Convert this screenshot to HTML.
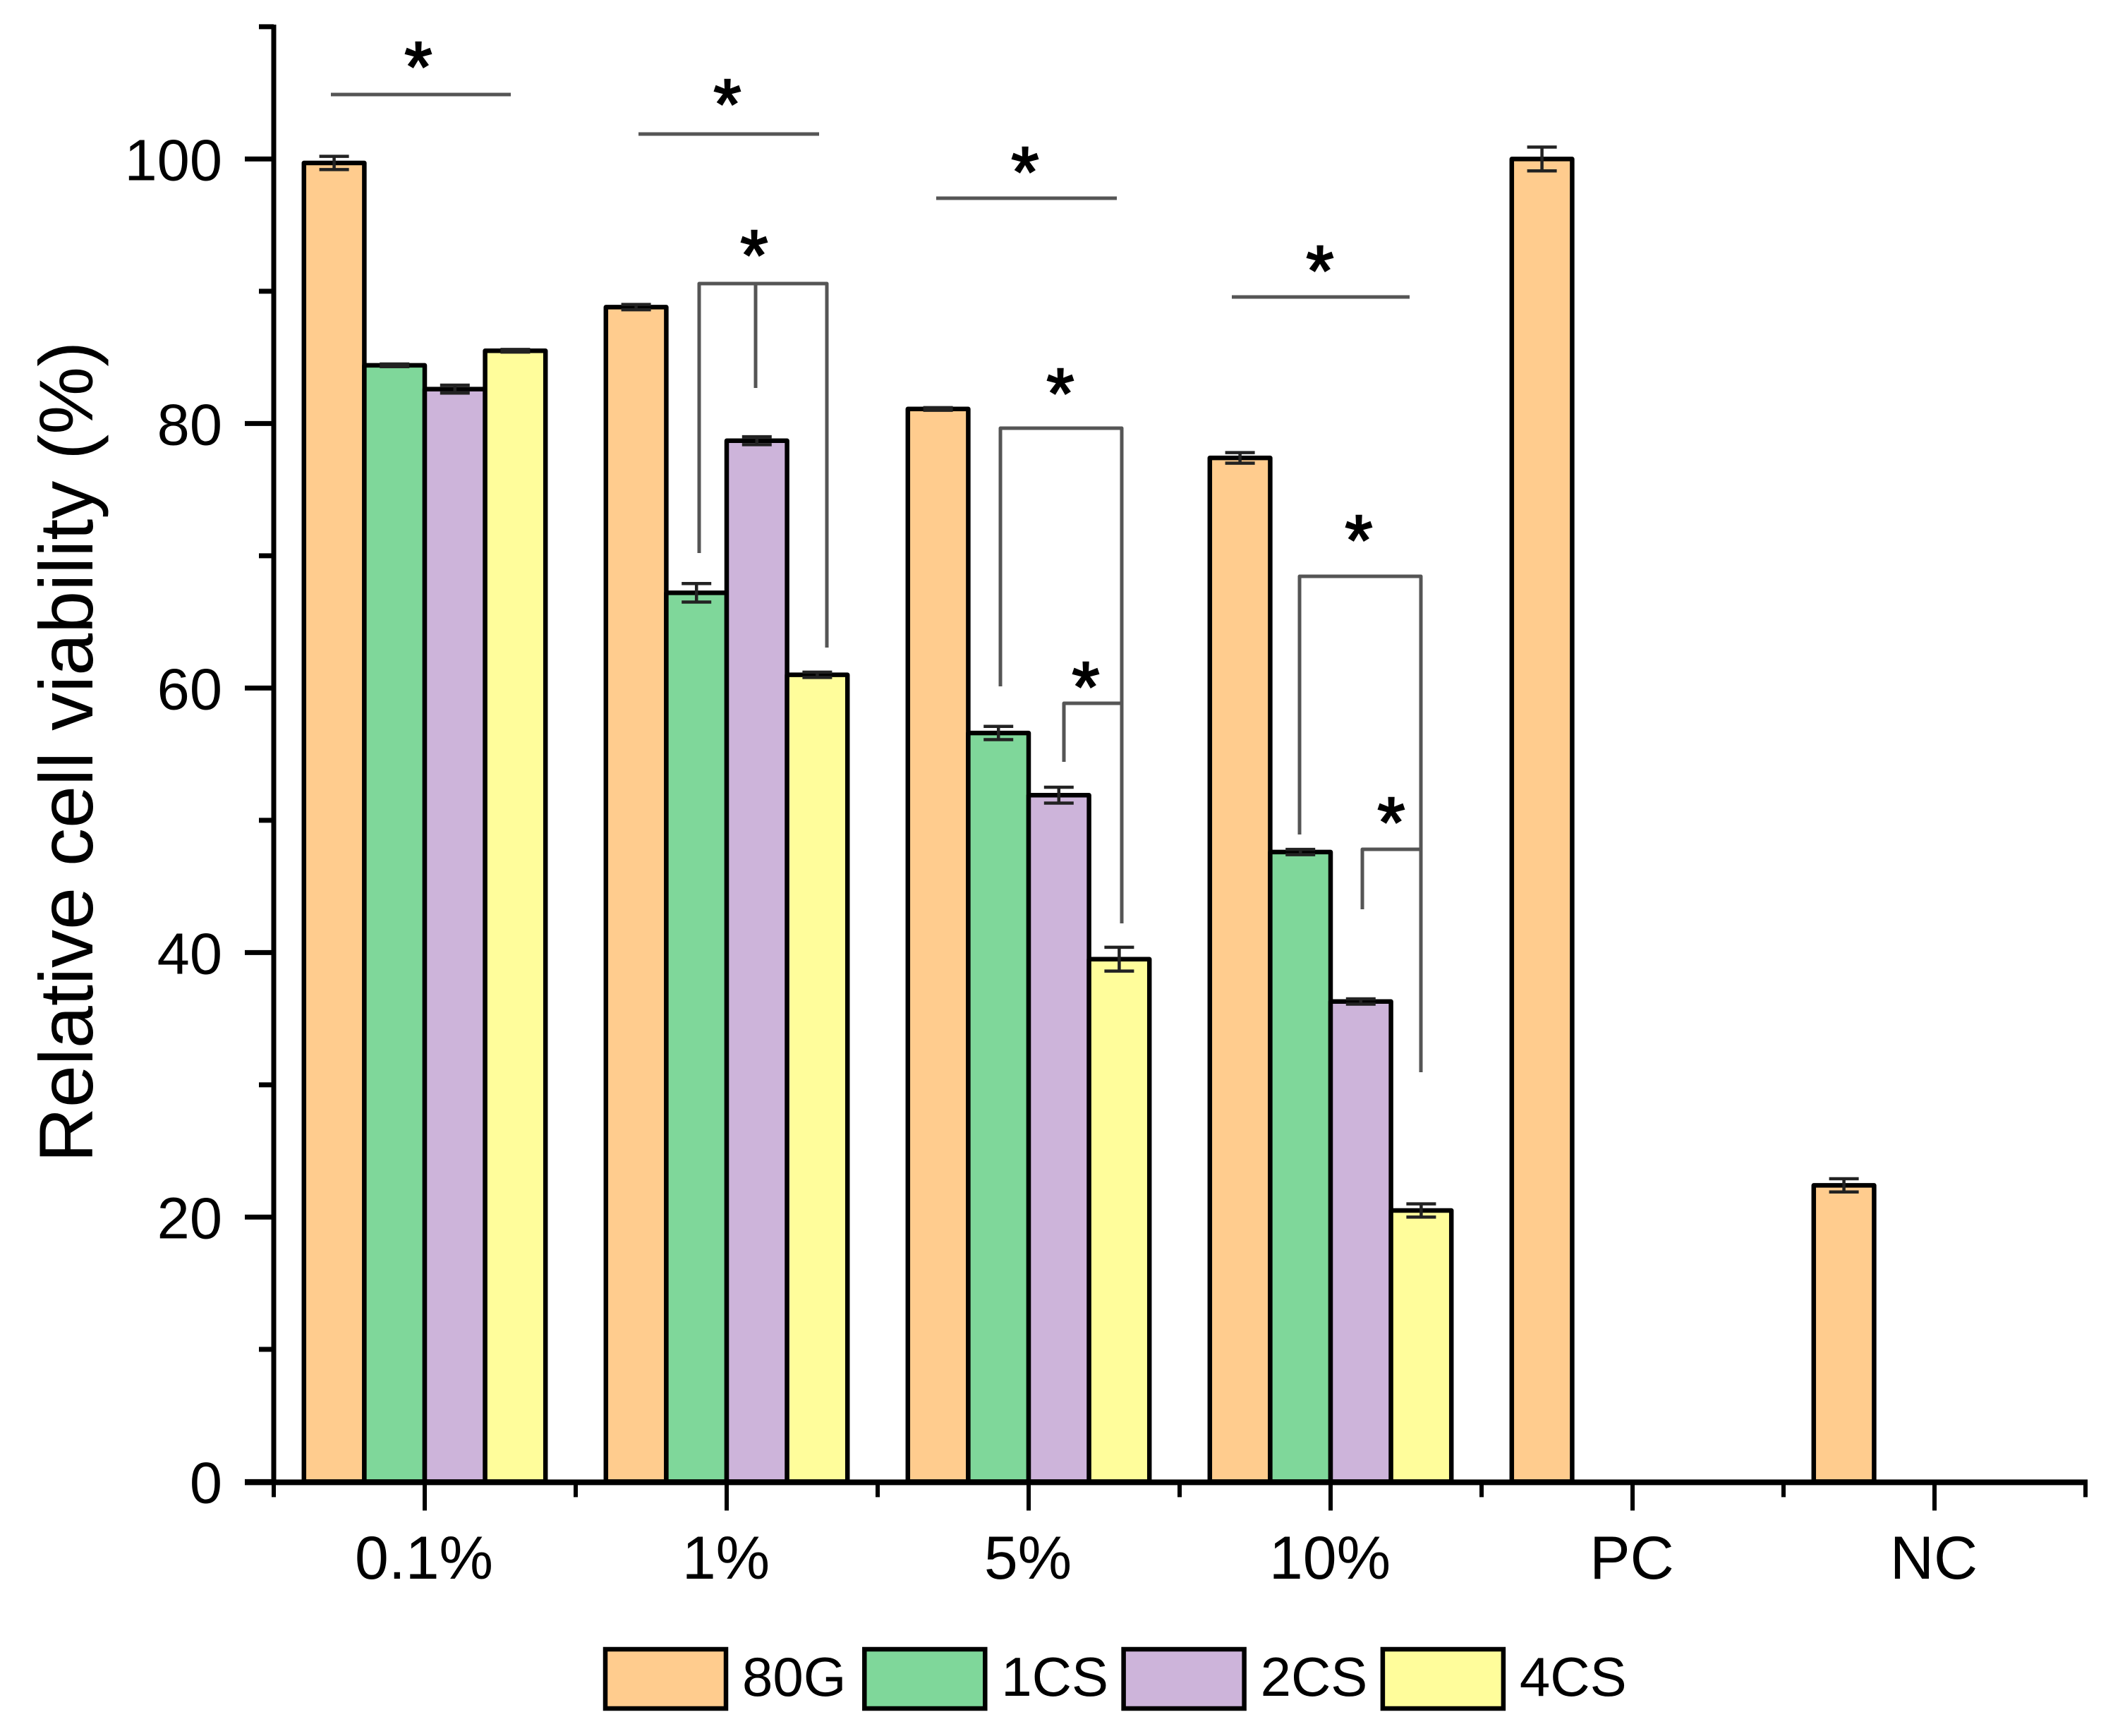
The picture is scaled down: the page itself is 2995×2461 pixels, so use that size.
<!DOCTYPE html>
<html lang="en">
<head>
<meta charset="utf-8">
<title>Relative cell viability</title>
<style>
html,body{margin:0;padding:0;background:#fff;}
svg{display:block;}
text{font-family:"Liberation Sans",Arial,sans-serif;fill:#000;}
</style>
</head>
<body>
<svg id="chart" xmlns="http://www.w3.org/2000/svg" width="2995" height="2461" viewBox="0 0 2995 2461">
  <rect x="0" y="0" width="2995" height="2461" fill="#fff"/>
  <g id="bars"></g>
  <g id="axes"></g>
  <text transform="translate(131,1066) rotate(-90)" text-anchor="middle" font-size="108">Relative cell viability (%)</text>

  <g fill="none" stroke="#555" stroke-width="5" stroke-linejoin="round">
    <path d="M469 134H724"/>
    <path d="M905 190H1161"/>
    <path d="M991 784V402H1172V918M1071 402V550"/>
    <path d="M1327 281H1583"/>
    <path d="M1418 973V607H1590V1309"/>
    <path d="M1508 1080V997H1590"/>
    <path d="M1746 421H1998"/>
    <path d="M1842 1183V817H2014V1520"/>
    <path d="M1931 1289V1204H2014"/>
  </g>
  <g font-size="100" text-anchor="middle" stroke="#000" stroke-width="2.5">
    <text x="593" y="129">*</text>
    <text x="1031" y="182">*</text>
    <text x="1069" y="396">*</text>
    <text x="1453" y="278">*</text>
    <text x="1503" y="592">*</text>
    <text x="1539" y="1008">*</text>
    <text x="1871" y="418">*</text>
    <text x="1926" y="800">*</text>
    <text x="1972" y="1200">*</text>
  </g>

  <g id="legend"></g>
</svg>
<script>
const categories = ['0.1%', '1%', '5%', '10%', 'PC', 'NC'];
const seriesNames = ['80G', '1CS', '2CS', '4CS'];
const seriesColors = ['#FFCC8E', '#7FD79A', '#CDB4DA', '#FFFD9B'];
const values80G = [99.7, 88.8, 81.1, 77.4, 100, 22.4];
const values1CS = [84.4, 67.2, 56.6, 47.6, null, null];
const values2CS = [82.6, 78.7, 51.9, 36.3, null, null];
const values4CS = [85.5, 61.0, 39.5, 20.5, null, null];
const errors80G = [0.5, 0.2, 0.1, 0.4, 0.9, 0.5];
const errors1CS = [0.1, 0.7, 0.5, 0.2, null, null];
const errors2CS = [0.3, 0.3, 0.6, 0.2, null, null];
const errors4CS = [0.1, 0.2, 0.9, 0.5, null, null];
const yTicksMajor = [0, 20, 40, 60, 80, 100];
const yTicksMinor = [10, 30, 50, 70, 90, 110];

const seriesValues = [values80G, values1CS, values2CS, values4CS];
const seriesErrors = [errors80G, errors1CS, errors2CS, errors4CS];
const NS = 'http://www.w3.org/2000/svg';
const barsGroup = document.getElementById('bars');
const axesGroup = document.getElementById('axes');
const legendGroup = document.getElementById('legend');

const plotLeft = 388;
const groupPitch = 428;
const barWidth = 85.6;
const yZero = 2100.4;
const yPerUnit = 18.75;
function yScale(v) { return yZero - v * yPerUnit; }
function xCenter(i) { return plotLeft + groupPitch * (i + 0.5); }
function xBar(i, s) { return xCenter(i) + barWidth * (s - 2); }
function slug(t) { return t.toLowerCase().replace('.', '-').replace('%', '-percent'); }

function make(tag, attrs, parent) {
  const el = document.createElementNS(NS, tag);
  for (const k in attrs) el.setAttribute(k, attrs[k]);
  parent.appendChild(el);
  return el;
}

seriesValues.forEach(function (vals, s) {
  vals.forEach(function (v, i) {
    if (v === null) return;
    const bar = make('rect', {
      x: xBar(i, s), y: yScale(v), width: barWidth, height: yZero - yScale(v),
      fill: seriesColors[s], stroke: '#000', 'stroke-width': 6.5, 'stroke-linejoin': 'round'
    }, barsGroup);
    
    
  });
});

seriesValues.forEach(function (vals, s) {
  vals.forEach(function (v, i) {
    if (v === null) return;
    const e = seriesErrors[s][i];
    const cx = xBar(i, s) + barWidth / 2;
    const hi = yScale(v + e);
    const lo = yScale(v - e);
    const err = make('path', {
      d: 'M' + (cx - 21) + ' ' + hi + 'H' + (cx + 21) + 'M' + cx + ' ' + hi + 'V' + lo + 'M' + (cx - 21) + ' ' + lo + 'H' + (cx + 21),
      fill: 'none', stroke: '#222', 'stroke-width': 4.5
    }, barsGroup);
    
    
  });
});

const yLine = make('line', { x1: plotLeft, x2: plotLeft, y1: yScale(110) - 3, y2: yZero + 3, stroke: '#000', 'stroke-width': 7 }, axesGroup);


const xLine = make('line', { x1: plotLeft - 41, x2: xCenter(5) + groupPitch / 2 + 3, y1: yZero + 1, y2: yZero + 1, stroke: '#000', 'stroke-width': 8 }, axesGroup);



yTicksMajor.forEach(function (t) {
  const tick = make('line', { x1: plotLeft - 41, x2: plotLeft, y1: yScale(t), y2: yScale(t), stroke: '#000', 'stroke-width': 7 }, axesGroup);
  
  
  const label = make('text', { x: plotLeft - 73, y: yScale(t) + 30, 'text-anchor': 'end', 'font-size': 83 }, axesGroup);
  label.textContent = String(t);
  
  
});
yTicksMinor.forEach(function (t) {
  const tick = make('line', { x1: plotLeft - 21, x2: plotLeft, y1: yScale(t), y2: yScale(t), stroke: '#000', 'stroke-width': 7 }, axesGroup);
  
  
});

categories.forEach(function (c, i) {
  const tick = make('line', { x1: xCenter(i), x2: xCenter(i), y1: yZero, y2: yZero + 41, stroke: '#000', 'stroke-width': 6 }, axesGroup);
  
  
  const label = make('text', { x: xCenter(i) - 1, y: 2238, 'text-anchor': 'middle', 'font-size': 86 }, axesGroup);
  label.textContent = c;
  
  
});
for (let i = 0; i <= categories.length; i++) {
  const mx = plotLeft + groupPitch * i;
  const minor = make('line', { x1: mx, x2: mx, y1: yZero, y2: yZero + 22, stroke: '#000', 'stroke-width': 6 }, axesGroup);
  
  
}

seriesNames.forEach(function (n, s) {
  const lx = 858 + 367.3 * s;
  const swatch = make('rect', { x: lx, y: 2338, width: 171, height: 84, fill: seriesColors[s], stroke: '#000', 'stroke-width': 6.5 }, legendGroup);
  
  
  const label = make('text', { x: lx + 194, y: 2404, 'font-size': 78 }, legendGroup);
  label.textContent = n;
  
  
});
</script>
</body>
</html>
